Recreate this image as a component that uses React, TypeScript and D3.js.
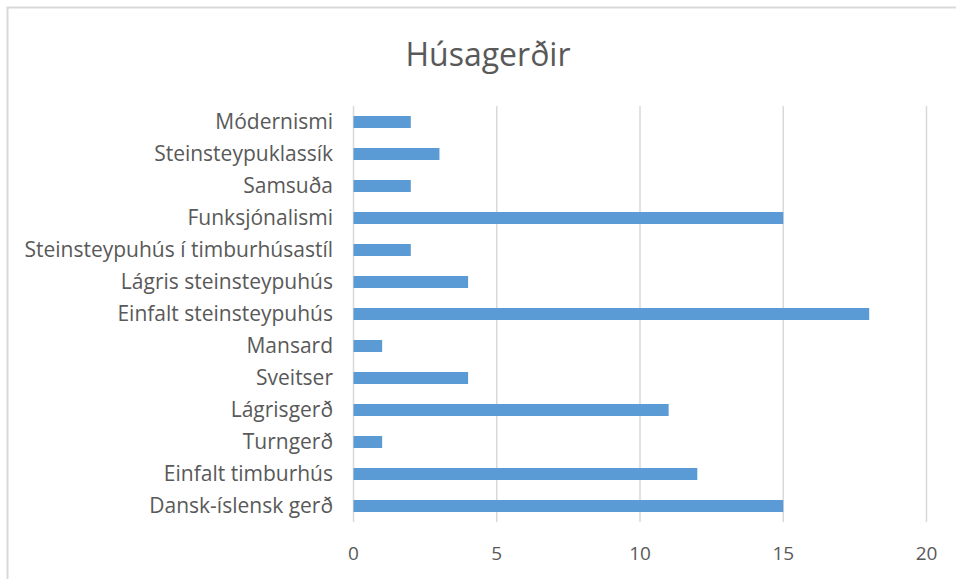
import React from 'react';
import * as d3 from 'd3';

const categories = [
  'Módernismi',
  'Steinsteypuklassík',
  'Samsuða',
  'Funksjónalismi',
  'Steinsteypuhús í timburhúsastíl',
  'Lágris steinsteypuhús',
  'Einfalt steinsteypuhús',
  'Mansard',
  'Sveitser',
  'Lágrisgerð',
  'Turngerð',
  'Einfalt timburhús',
  'Dansk-íslensk gerð',
];
const counts = [2, 3, 2, 15, 2, 4, 18, 1, 4, 11, 1, 12, 15];
const xTicks = [0, 5, 10, 15, 20];
const title = 'Húsagerðir';

const width = 956;
const height = 579;
const font = "'Open Sans', 'Noto Sans', sans-serif";

export default function App() {
  const x = d3.scaleLinear().domain([0, 20]).range([353.5, 926.5]);
  const y = d3.scaleBand().domain(categories).range([106, 522]).paddingInner(0.625).paddingOuter(0.3125);

  return (
    <svg width={width} height={height} style={{ position: 'absolute', left: 0, top: 0, background: '#fff' }}>
      <rect x={7.5} y={7.5} width={960} height={600} fill="#fff" stroke="#d9d9d9" strokeWidth={2} />
      <text x={488} y={66} textAnchor="middle" fontFamily={font} fontSize={32} fill="#595959">{title}</text>
      {xTicks.map(t => (
        <g key={t}>
          <line x1={x(t)} x2={x(t)} y1={106} y2={522} stroke="#d9d9d9" strokeWidth={1.5} />
          <text x={x(t)} y={560} textAnchor="middle" fontFamily={font} fontSize={19} fill="#595959">{t}</text>
        </g>
      ))}
      {categories.map((c, i) => (
        <g key={c}>
          <rect x={x(0)} y={y(c)} width={x(counts[i]) - x(0)} height={y.bandwidth()} fill="#5b9bd5" />
          <text x={333} y={(y(c) as number) + y.bandwidth() / 2} dy="0.35em" textAnchor="end" fontFamily={font} fontSize={21} fill="#595959">{c}</text>
        </g>
      ))}
    </svg>
  );
}
